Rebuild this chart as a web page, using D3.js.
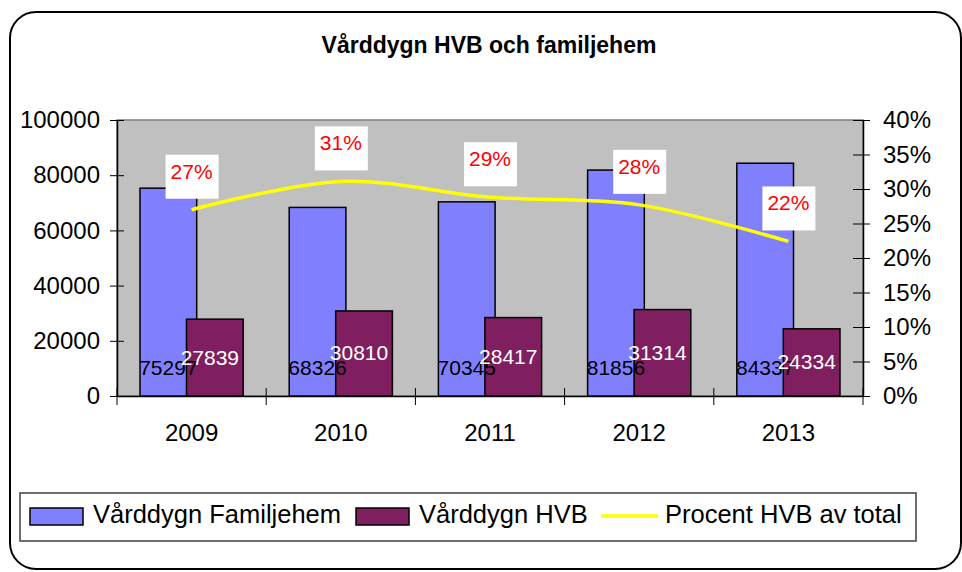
<!DOCTYPE html>
<html>
<head>
<meta charset="utf-8">
<script src="https://cdn.jsdelivr.net/npm/d3@7"></script>
<style>
body { margin: 0; background: #fff; }
text { font-family: "Liberation Sans", Arial, sans-serif; }
</style>
</head>
<body>
<script>
// Data
var years = [ "2009", "2010", "2011", "2012", "2013" ];
var familjehem = [ 75297, 68326, 70345, 81856, 84337 ];
var hvb = [ 27839, 30810, 28417, 31314, 24334 ];
var procent = [ 0.270, 0.311, 0.288, 0.277, 0.224 ];
var leftTicks = [ 0, 20000, 40000, 60000, 80000, 100000 ];
var rightTicks = [ 0, 0.05, 0.10, 0.15, 0.20, 0.25, 0.30, 0.35, 0.40 ];
var seriesNames = [ "Vårddygn Familjehem", "Vårddygn HVB", "Procent HVB av total" ];

var width = 962, height = 572;
var plot = { left : 117, right : 863, top : 120, bottom : 396 };

var svg = d3.select("body").append("svg").attr("width", width).attr("height", height);

// outer frame
svg.append("rect").attr("x", 10).attr("y", 12).attr("width", 951).attr("height", 557)
		.attr("rx", 26).attr("ry", 26).style("fill", "#fff").style("stroke", "#000")
		.style("stroke-width", 2);

svg.append("text").attr("x", 489).attr("y", 53).style("text-anchor", "middle")
		.style("font-size", "23px").style("font-weight", "bold").text("Vårddygn HVB och familjehem");

var x0 = d3.scaleBand().domain(years).range([ plot.left, plot.right ]);
// bars overlap a little (Excel overlap ~18%)
var barW = x0.bandwidth() * 0.38;
var step = barW * 0.82;
var groupW = barW + step;

var y = d3.scaleLinear().domain([ 0, 100000 ]).range([ plot.bottom, plot.top ]);
var y2 = d3.scaleLinear().domain([ 0, 0.4 ]).range([ plot.bottom, plot.top ]);

// plot area
svg.append("rect").attr("x", plot.left).attr("y", plot.top).attr("width", plot.right - plot.left)
		.attr("height", plot.bottom - plot.top).style("fill", "#c0c0c0").style("stroke", "#808080")
		.style("stroke-width", 1.5);

// axes
var yAxis = d3.axisLeft(y).tickValues(leftTicks).tickFormat(d3.format("d")).tickSizeInner(7)
		.tickSizeOuter(0).tickPadding(10);
var gy = svg.append("g").attr("transform", "translate(" + plot.left + ",0)").call(yAxis);
gy.selectAll(".tick line").attr("x2", 7).attr("x1", -7);

var y2Axis = d3.axisRight(y2).tickValues(rightTicks).tickFormat(d3.format(".0%")).tickSizeInner(7)
		.tickSizeOuter(0).tickPadding(13);
var gy2 = svg.append("g").attr("transform", "translate(" + plot.right + ",0)").call(y2Axis);
gy2.selectAll(".tick line").attr("x1", -10).attr("x2", 7);

var xAxis = d3.axisBottom(x0).tickSize(0).tickPadding(28);
var gx = svg.append("g").attr("transform", "translate(0," + plot.bottom + ")").call(xAxis);

// category boundary ticks on the x axis
var bounds = years.map(function(d) { return x0(d); }).concat([ plot.right ]);
gx.selectAll(".bound").data(bounds).enter().append("line").attr("class", "bound")
		.attr("x1", function(d) { return d; }).attr("x2", function(d) { return d; })
		.attr("y1", -8).attr("y2", 9).style("stroke", "#000");

svg.selectAll(".domain").style("stroke", "#000").style("stroke-width", 1.5);
svg.selectAll(".tick text").style("font-size", "24px").style("fill", "#000");
svg.selectAll(".tick line").style("stroke", "#000");

// bars
var groups = svg.selectAll(".year").data(years).enter().append("g").attr("class", "year")
		.attr("transform", function(d) {
			return "translate(" + (x0(d) + (x0.bandwidth() - groupW) / 2) + ",0)";
		});

groups.append("rect").attr("x", 0).attr("width", barW).attr("y", function(d, i) {
	return y(familjehem[i]);
}).attr("height", function(d, i) {
	return plot.bottom - y(familjehem[i]);
}).style("fill", "#8080ff").style("stroke", "#000").style("stroke-width", 1.5);

groups.append("rect").attr("x", step).attr("width", barW).attr("y", function(d, i) {
	return y(hvb[i]);
}).attr("height", function(d, i) {
	return plot.bottom - y(hvb[i]);
}).style("fill", "#801f5f").style("stroke", "#000").style("stroke-width", 1.5);

// bar labels
groups.append("text").attr("x", barW / 2).attr("y", 375).style("text-anchor", "middle")
		.style("font-size", "21px").style("fill", "#000").text(function(d, i) {
			return familjehem[i];
		});

groups.append("text").attr("x", step + barW / 2 - 5).attr("y", function(d, i) {
	return (y(hvb[i]) + plot.bottom) / 2 + 7;
}).style("text-anchor", "middle").style("font-size", "21px").style("fill", "#fff").text(function(d, i) {
	return hvb[i];
});

// percent line
var line = d3.line().x(function(d, i) {
	return x0(years[i]) + x0.bandwidth() / 2;
}).y(function(d) {
	return y2(d);
}).curve(d3.curveCatmullRom.alpha(0.5));

svg.append("path").datum(procent).attr("d", line).style("fill", "none").style("stroke", "#ffff00")
		.style("stroke-width", 3.5);

var pl = svg.selectAll(".plabel").data(procent).enter().append("g").attr("class", "plabel")
		.attr("transform", function(d, i) {
			return "translate(" + (x0(years[i]) + x0.bandwidth() / 2) + "," + (y2(d) - 33) + ")";
		});
pl.append("rect").attr("x", -26).attr("y", -22).attr("width", 53).attr("height", 44).style("fill", "#fff");
pl.append("text").attr("y", 2).style("text-anchor", "middle").style("font-size", "21px")
		.style("fill", "#ff0000").text(function(d) {
			return d3.format(".0%")(d);
		});

// legend
var lg = svg.append("g");
lg.append("rect").attr("x", 20).attr("y", 493).attr("width", 896).attr("height", 48)
		.style("fill", "#fff").style("stroke", "#404040").style("stroke-width", 1.5);

var legendX = [ 30, 356, 601 ];
var items = lg.selectAll(".legend").data(seriesNames).enter().append("g").attr("class", "legend")
		.attr("transform", function(d, i) {
			return "translate(" + legendX[i] + ",0)";
		});

items.filter(function(d, i) { return i < 2; }).append("rect").attr("y", 508).attr("width", 53)
		.attr("height", 17).style("fill", function(d, i) {
			return i === 0 ? "#8080ff" : "#801f5f";
		}).style("stroke", "#000").style("stroke-width", 1.5);

items.filter(function(d, i) { return i === 2; }).append("line").attr("x1", 0).attr("x2", 57)
		.attr("y1", 516).attr("y2", 516).style("stroke", "#ffff00").style("stroke-width", 3.5);

items.append("text").attr("x", function(d, i) {
	return i === 2 ? 64 : 63;
}).attr("y", 523).style("font-size", "25.5px").style("fill", "#000").text(function(d) {
	return d;
});
</script>
</body>
</html>
